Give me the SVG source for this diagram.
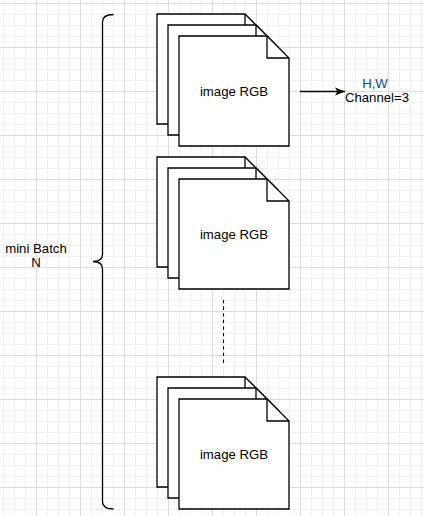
<svg xmlns="http://www.w3.org/2000/svg" width="424" height="516" viewBox="0 0 424 516">
  <defs>
    <pattern id="grid" patternUnits="userSpaceOnUse" x="36" y="3" width="44" height="44">
      <rect width="44" height="44" fill="#ffffff"/>
      <rect x="11" y="0" width="1" height="44" fill="#f2f2f2"/>
      <rect x="22" y="0" width="1" height="44" fill="#f2f2f2"/>
      <rect x="33" y="0" width="1" height="44" fill="#f2f2f2"/>
      <rect x="0" y="11" width="44" height="1" fill="#f2f2f2"/>
      <rect x="0" y="22" width="44" height="1" fill="#f2f2f2"/>
      <rect x="0" y="33" width="44" height="1" fill="#f2f2f2"/>
      <rect x="0" y="0" width="1" height="44" fill="#dcdcdc"/>
      <rect x="0" y="0" width="44" height="1" fill="#dcdcdc"/>
    </pattern>
    <marker id="arrow" viewBox="0 0 10 10" refX="10" refY="5" markerWidth="10" markerHeight="10" markerUnits="userSpaceOnUse" orient="auto">
      <path d="M0,1 L10,5 L0,9 L2.5,5 Z" fill="#000"/>
    </marker>
    <g id="doc">
      <path class="doc" d="M0,0 L88,0 L110,22 L110,110 L0,110 Z"/>
      <path class="fold" d="M88,0 L88,22 L110,22"/>
    </g>
  </defs>
  <style>
    .doc { fill: #ffffff; stroke: #000; stroke-width: 1.3; stroke-linejoin: miter; }
    .fold { fill: none; stroke: #000; stroke-width: 1.3; }
    .lbl { font-family: "Liberation Sans", Arial, sans-serif; font-size: 13.2px; fill: #000; text-anchor: middle; }
    .line { fill: none; stroke: #000; stroke-width: 1.3; }
  </style>
  <rect width="424" height="516" fill="url(#grid)"/>

  <g id="stack1">
    <use href="#doc" x="157" y="14"/>
    <use href="#doc" x="168" y="25"/>
    <use href="#doc" x="179" y="36"/>
    <text class="lbl" x="234" y="96">image RGB</text>
  </g>

  <g id="stack2">
    <use href="#doc" x="157" y="157"/>
    <use href="#doc" x="168" y="168"/>
    <use href="#doc" x="179" y="179"/>
    <text class="lbl" x="234" y="239">image RGB</text>
  </g>

  <g id="stack3">
    <use href="#doc" x="157" y="377"/>
    <use href="#doc" x="168" y="388"/>
    <use href="#doc" x="179" y="399"/>
    <text class="lbl" x="234" y="459">image RGB</text>
  </g>

  <g id="brace">
    <path class="line" d="M113.5,14.5 Q102.5,14.5 102.5,22 L102.5,254 Q102.5,261.5 93,261.5 Q102.5,261.5 102.5,269 L102.5,501.5 Q102.5,509 113.5,509"/>
    <text class="lbl" x="36" y="253">mini Batch</text>
    <text class="lbl" x="36" y="267">N</text>
  </g>

  <g id="shape-label">
    <text class="lbl" x="375" y="88" style="fill:#0b4a99">H,W</text>
    <text class="lbl" x="377" y="102">Channel=3</text>
  </g>

  <g id="connectors">
    <line class="line" x1="300" y1="91.5" x2="345" y2="91.5" marker-end="url(#arrow)"/>
    <line x1="223.5" y1="300" x2="223.5" y2="364" stroke="#000" stroke-width="1.1" stroke-dasharray="3.3 3.3"/>
  </g>
</svg>
